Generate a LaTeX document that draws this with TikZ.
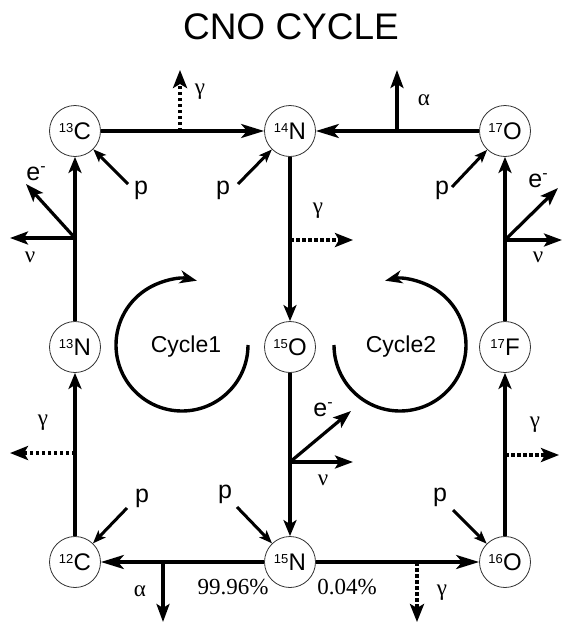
\documentclass[tikz,border=0pt]{standalone}
\usepackage{fontspec}
\setmainfont{Liberation Sans}
\newfontfamily\serifgr{Liberation Serif}
\usetikzlibrary{arrows.meta}
\newcommand{\iso}[2]{{\fontsize{13}{13}\selectfont\raisebox{7pt}{#1}}\hspace{0.3pt}{\fontsize{24}{24}\selectfont #2}}
\newcommand{\elec}{e\raisebox{9pt}{\fontsize{16}{16}\selectfont -}}
\begin{document}
\begin{tikzpicture}[x=1pt,y=-1pt,
 nucl/.style={draw=black!80, line width=0.8pt, circle, minimum size=51pt, inner sep=0pt},
 hflow/.style={line width=3.4pt, -{Stealth[length=23pt,width=14pt,inset=6pt]}},
 vflow/.style={line width=3.4pt, -{Stealth[length=16pt,width=13pt,inset=4pt]}},
 emit/.style={line width=3.2pt, -{Stealth[length=18pt,width=13pt,inset=4pt]}},
 gam/.style={line width=3.4pt, dash pattern=on 3.5pt off 2.5pt, -{Stealth[length=18pt,width=14pt,inset=4pt]}},
 pin/.style={line width=3pt, -{Stealth[length=13pt,width=10pt,inset=3pt]}},
 cyc/.style={line width=3.4pt, -{Stealth[length=17pt,width=13pt,inset=5pt]}},
 lab/.style={font=\fontsize{25}{25}\selectfont},
 gr/.style={font=\serifgr\fontsize{23}{23}\selectfont},
 pct/.style={font=\serifgr\fontsize{23}{23}\selectfont},
]
\useasboundingbox (0,0) rectangle (562,627);
\node (title) at (291,27) {\fontsize{37}{37}\selectfont CNO CYCLE};

% nuclei
\node[nucl] (C13) at (75,131) {\iso{13}{C}};
\node[nucl] (N14) at (290,131) {\iso{14}{N}};
\node[nucl] (O17) at (505,131) {\iso{17}{O}};
\node[nucl] (N13) at (75,347) {\iso{13}{N}};
\node[nucl] (O15) at (290,347) {\iso{15}{O}};
\node[nucl] (F17) at (505,347) {\iso{17}{F}};
\node[nucl] (C12) at (75,562) {\iso{12}{C}};
\node[nucl] (N15) at (290,562) {\iso{15}{N}};
\node[nucl] (O16) at (505,562) {\iso{16}{O}};

% main flows
\draw[hflow] (C13) -- (N14);
\draw[hflow] (O17) -- (N14);
\draw[hflow] (N15) -- (C12);
\draw[hflow] (N15) -- (O16);
\draw[vflow] (N14) -- (O15);
\draw[vflow] (O15) -- (N15);
\draw[vflow] (C12) -- (N13);
\draw[vflow] (N13) -- (C13);
\draw[vflow] (O16) -- (F17);
\draw[vflow] (F17) -- (O17);

% junction points
\coordinate (jTop) at (180,131);
\coordinate (jTopT) at (180,70);
\coordinate (jAl) at (397,131);
\coordinate (jAlT) at (397,70);
\coordinate (jMid) at (290,240);
\coordinate (jMidT) at (353,240);
\coordinate (jL) at (75,238);
\coordinate (jLe) at (26,184);
\coordinate (jLn) at (10,238);
\coordinate (jR) at (505,240);
\coordinate (jRe) at (558,188);
\coordinate (jRn) at (562,240);
\coordinate (jC) at (290,462);
\coordinate (jCe) at (351,411);
\coordinate (jCn) at (353,462);
\coordinate (jLg) at (75,453);
\coordinate (jLgT) at (10,453);
\coordinate (jRg) at (505,455);
\coordinate (jRgT) at (559,455);
\coordinate (jBa) at (163,562);
\coordinate (jBaT) at (163,622);
\coordinate (jBg) at (417,562);
\coordinate (jBgT) at (417,622);

\draw[gam] (jTop) -- (jTopT);
\draw[emit] (jAl) -- (jAlT);
\draw[gam] (jMid) -- (jMidT);
\draw[emit] (jL) -- (jLe);
\draw[emit] (jL) -- (jLn);
\draw[emit] (jR) -- (jRe);
\draw[emit] (jR) -- (jRn);
\draw[emit] (jC) -- (jCe);
\draw[emit] (jC) -- (jCn);
\draw[gam] (jLg) -- (jLgT);
\draw[gam] (jRg) -- (jRgT);
\draw[emit] (jBa) -- (jBaT);
\draw[gam] (jBg) -- (jBgT);

% emission labels
\node[gr] (gTop) at (200,92) {γ};
\node[gr] (aTop) at (424,100) {α};
\node[gr] (gMid) at (318,211) {γ};
\node[lab] (eL) at (36,174) {\elec};
\node[gr] (nL) at (30,257) {ν};
\node[lab] (eR) at (538,181) {\elec};
\node[gr] (nR) at (538,257) {ν};
\node[lab] (eC) at (323,410) {\elec};
\node[gr] (nC) at (323,480) {ν};
\node[gr] (gL) at (43,423) {γ};
\node[gr] (gR) at (535,425) {γ};
\node[gr] (aB) at (140,591) {α};
\node[gr] (gB) at (442,593) {γ};
\node[pct] (p1) at (233,587) {99.96\%};
\node[pct] (p2) at (347,587) {0.04\%};

% protons
\node[lab] (pC13) at (141,190) {p};
\node[lab] (pN14) at (223,190) {p};
\node[lab] (pO17) at (442,190) {p};
\node[lab] (pC12) at (142,498) {p};
\node[lab] (pN15) at (225,494) {p};
\node[lab] (pO16) at (440,497) {p};
\coordinate (sC13) at (128,184);
\coordinate (sN14) at (238,184);
\coordinate (sO17) at (452,187);
\coordinate (sC12) at (127,508);
\coordinate (sN15) at (237,507);
\coordinate (sO16) at (453,510);
\draw[pin] (sC13) -- (C13);
\draw[pin] (sN14) -- (N14);
\draw[pin] (sO17) -- (O17);
\draw[pin] (sC12) -- (C12);
\draw[pin] (sN15) -- (N15);
\draw[pin] (sO16) -- (O16);

% cycles
\draw[cyc] (248,345) arc[start angle=0, end angle=283, radius=66];
\draw[cyc] (334,345) arc[start angle=180, end angle=-103, radius=66];
\node[font=\fontsize{23}{23}\selectfont] (cl1) at (186,347) {Cycle1};
\node[font=\fontsize{23}{23}\selectfont] (cl2) at (401,347) {Cycle2};
\end{tikzpicture}
\end{document}
